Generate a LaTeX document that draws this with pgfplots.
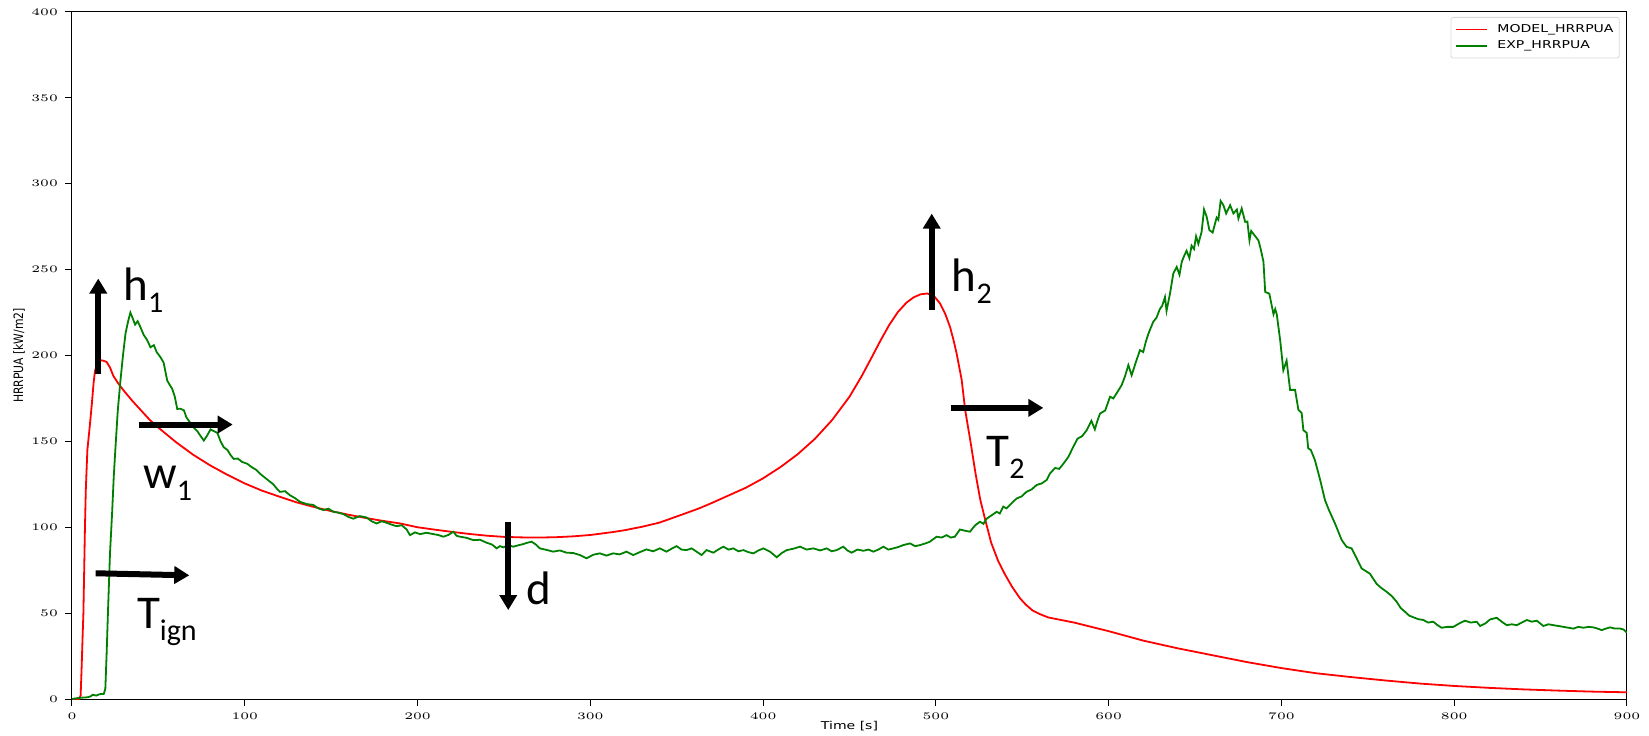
\documentclass[border=0pt]{standalone}
\usepackage{pgfplots}
\pgfplotsset{compat=1.18}
\usepackage{graphicx}
\usepackage{fontspec}
\setmainfont{DejaVu Sans}
\newfontfamily\calib{Carlito}
\usetikzlibrary{arrows.meta}
\definecolor{mgreen}{HTML}{008000}
\newcommand\sx[1]{\scalebox{1.3}[1]{#1}}
\newcommand\tf{\fontsize{5.4}{6.4}\selectfont}
\newcommand\ann[2]{{\calib\fontsize{23.5}{28}\selectfont #1\raisebox{-6pt}{\fontsize{15}{18}\selectfont #2}}}
\begin{document}
\begin{tikzpicture}
\begin{axis}[
 scale only axis, width=777.5pt, height=343.5pt,
 xmin=0, xmax=900, ymin=0, ymax=400,
 xtick={0,100,...,900}, ytick={0,50,...,400},
 tick align=outside, major tick length=3.5pt, xtick pos=bottom, ytick pos=left,
 tick style={black, line width=0.5pt},
 axis line style={line width=0.5pt},
 xticklabel={\sx{\pgfmathprintnumber{\tick}}},
 yticklabel={\sx{\pgfmathprintnumber{\tick}}},
 ticklabel style={font=\tf},
 xlabel={\sx{Time [s]}},
 ylabel={\scalebox{1}[1.2]{HRRPUA [kW/m2]}},
 label style={font=\tf},
 xlabel style={at={(axis description cs:0.5,-0.0393)}, anchor=center},
 ylabel style={at={(axis description cs:-0.0341,0.5)}, anchor=center},
 legend style={at={(1,1)}, anchor=north east, xshift=-3.7pt, yshift=-2.5pt,
   draw=black!15, rounded corners=1pt, font=\tf, inner xsep=2pt, inner ysep=2.5pt,
   row sep=1.2pt, column sep=4pt, nodes={inner sep=0.8pt}},
 legend cell align=left,
 legend image code/.code={\draw[#1] (0pt,0pt) -- (15.5pt,0pt);},
]
\coordinate (O) at (rel axis cs:0,0);
\addplot[red, line width=0.9pt] coordinates {
(0,0) (4,0) (5,2) (5.6,19) (6.1,35) (6.6,50) (7,72) (7.5,100) (8,122) (8.9,145)
(10.4,160) (11.5,172) (12.5,184) (13.3,191) (14.5,195) (16.2,197.3) (18,197) (20,196.3)
(22,193) (24,188) (26.8,183.7) (30,179.5) (35,173.5) (40,168) (45,162.5) (50,158)
(60,149.7) (70,142.3) (80,136) (90,130.5) (100,125.5) (110,121.3) (120.4,117.7)
(130,114.5) (140,111.8) (150,109.4) (160,107.3) (170,105.4) (180,103.7) (190,102.2)
(200,100) (210,98.6) (220,97.3) (230,96.1) (240,95.1) (250,94.4) (260,94.1) (270,94.0)
(280,94.2) (290,94.7) (300,95.5) (313,97.2) (320,98.3) (330,100.3) (340,102.7) (352,107)
(363,111) (370,114) (380,118.5) (390,123) (400,128.5) (410,135) (420,142.5) (430,151.5)
(440,162.5) (450,176) (457,187.9) (463,199.2) (468,208.8) (473,217.8) (478,225.3)
(483,230.8) (487,233.8) (491,235.6) (495,236.1) (499,234.5) (502.4,230.3) (505.5,224)
(508.2,216.6) (510.2,209) (512,201.2) (514.9,186) (517,168) (520,150) (523,131)
(525.7,116) (528.4,105) (532,91) (536,80.5) (540,72.5) (544,65.5) (548.7,58.6)
(552,55) (556,51.5) (560,49.5) (565,47.5) (570,46.5) (580,44.5) (590,42) (600,39.5)
(620,34) (640,29.5) (660,25.5) (680,21.5) (700,18) (720,15) (740,12.8) (760,10.8)
(780,9) (800,7.6) (820,6.5) (840,5.6) (860,4.9) (880,4.3) (900,3.9)
};
\addlegendentry{\sx{MODEL\_HRRPUA}}
\addplot[mgreen, line width=0.9pt] coordinates {
(0,0) (3,0.5) (6,0.8) (9,1) (10.7,1.5) (12,2.5) (14,2) (16,2.8) (18.4,3) (19.3,6)
(20,25) (20.8,50) (22,85) (23.2,108) (24.2,130) (25.2,147) (26.5,168) (28,185)
(29.5,200) (31,213) (32.5,220) (33.8,225) (35,222) (36.5,218) (38,220) (39.6,216.5)
(41.5,212) (43.5,209) (45.4,204.8) (47.4,206) (49,202) (51.2,199) (53,196) (55.1,185.4)
(56.5,183) (58,180.6) (59.5,176) (60.9,168.9) (62.8,169) (64.8,168) (66.2,164) (67.6,162)
(69,160) (70.5,158) (72.5,156) (74.5,153) (76.3,150.5) (78,153) (80.2,157) (82,156)
(84.1,155) (86,150) (87.8,146.6) (90,145) (91.8,142) (93.6,139.8) (96,140) (98.5,138)
(101.4,137) (104,135) (106.5,133.5) (109,131) (111.5,129) (114,127) (116.5,125)
(118.7,122.3) (120.4,120.6) (123.3,121) (126.2,118.6) (129,117) (132,114.8) (135.8,113.5)
(139.7,113) (142.5,111) (145.5,110) (148.4,110.8) (151.3,109) (154.2,108.5) (157,107.7)
(160,106) (162.8,105) (166.6,106.5) (170.5,105.7) (173.4,103.5) (176.3,102.2) (179.2,103.5)
(182.1,102.6) (185,101.5) (187.9,100.6) (190.8,101.2) (193.7,98.7) (195.6,95.4) (198.5,97)
(201.4,96) (205.2,96.8) (209.1,96) (212,95.5) (214.9,94.5) (217.8,95.5) (220.7,97.4)
(222.6,95) (224.6,94.5) (228.5,93.8) (232.3,92.5) (236.2,92.7) (240,91) (243,90)
(245.8,87.7) (247.7,89) (249.6,88.3) (252.5,89.5) (255.4,88.7) (258.3,89.5) (261.2,90.2)
(263.6,91) (266,91.6) (268.4,90) (270.8,87.7) (274.7,86.8) (278.5,85.8) (282.4,86.5)
(286.2,85.2) (290.1,85) (294,83.8) (297.8,81.9) (301.7,84) (305.5,84.8) (309.4,83.5)
(313.2,84.8) (317,84.2) (320.9,85.8) (324.8,83.8) (328.6,85.5) (332.5,87.1) (336.4,86)
(340.2,87.7) (344.1,85.8) (347,87.5) (349.9,89) (352.8,87) (355.7,86.7) (358.6,87.7)
(361.5,85.8) (364.4,83.8) (367.3,86.7) (371.2,85.2) (374,87) (377,88.7) (380,87)
(382.8,87.7) (385.7,86) (388.6,86.7) (391.5,85.5) (394.4,84.8) (397.3,86.5) (400.2,87.7)
(404,85.8) (407.9,82.5) (410.8,85) (413.7,86.7) (417.5,87.5) (421.4,88.7) (425.2,87)
(429.1,87.7) (433,86.5) (436.8,87.7) (439.7,86) (442.6,86.7) (446.4,88.7) (448.8,86.5)
(451.2,85.2) (454.6,87) (458,86.3) (461,87) (463.8,85.8) (466.7,87) (469.6,88.7)
(472.5,87) (475.4,87.7) (478.3,88.5) (481.1,89.6) (485,90.6) (488,89) (490.8,89.6)
(493.7,90.5) (496.6,91.6) (500.4,94.5) (503.3,94) (506.2,95.4) (508.6,94) (511,94.5)
(513.9,98.7) (516.8,98) (519.7,97.4) (522.6,101) (525.5,103.2) (527.5,102) (529.4,105)
(532.3,107) (535.2,109) (537,108) (539,112) (540.9,111) (542.9,113) (544.8,115)
(546.8,116.8) (549.7,118) (552.5,120.7) (555.4,122) (558.3,124.6) (561.2,125.5)
(564.1,127.5) (566,131.3) (569,134.5) (571.4,134) (573.8,137) (576.7,141) (579.5,146.8)
(582,151.6) (584.6,153) (587.3,156.5) (590,162) (592,157) (593.5,162) (595,166.2)
(598,168) (600.8,176) (602.7,175) (604.6,178) (607.5,182.7) (609.5,188) (611.4,194.4)
(613.3,188.5) (615.7,196) (618.1,203.1) (620,202) (621.5,208) (623,212.7) (625.8,219.6)
(627.7,222) (629.6,227) (631,229) (632.6,234) (633.5,226) (635.5,236) (637.4,247.7)
(639.4,251.6) (641,247) (642.3,254.5) (643.7,258) (645.1,261) (646.7,256.7) (648,264)
(649.4,262) (650.6,269.4) (651.9,265) (653.8,272) (655.2,285) (656.7,280.9) (658.3,273)
(660.2,271.6) (662.5,280.3) (663.5,279) (664.8,290) (666.4,287.5) (668,282.7)
(670.3,287.5) (672.2,282.7) (674.2,285) (675.1,279.8) (677,285.6) (679,277.8) (680.3,278)
(681.5,267) (682.5,272.5) (684.8,269.5) (686.7,267) (688,262) (689.6,254.5) (690.6,237)
(693,236) (695.4,224) (696.4,227) (697.3,224) (699.3,208.6) (701.1,191.4) (703,197)
(705,180) (707.9,180) (709.8,168.4) (711.7,166.5) (712.7,156.5) (714.6,155) (715.5,146)
(717,145) (719.4,139) (722.3,128) (725.2,115.8) (727.5,110) (731,102.2) (734.9,92.5)
(737.7,88.6) (740.6,87.7) (743.5,82) (746.4,76) (748.8,74.5) (751.2,73) (753.1,70)
(755.1,67) (758,64.5) (760.9,62.4) (763.8,60) (766.7,56.6) (769,53) (771.5,50.8)
(774,48.5) (776.3,47.6) (779.2,46.5) (782.1,46) (785,44.5) (787.9,45) (790.3,43)
(792.7,41.5) (796,42) (799.5,42) (802.9,44) (806.2,45.6) (809.6,44.5) (813,45)
(815,42.5) (818,44) (820.7,46.3) (824.6,47.3) (827.5,45) (830.4,43) (833.3,43.5)
(836.2,43) (839.1,44.5) (842,46) (844.9,45) (847.8,45.6) (851.6,42.5) (854.5,43.5)
(857.4,43) (860.3,42.5) (863.2,42) (866.1,41.5) (869,41) (871.9,42) (874.8,41.5)
(877.7,42) (880.6,41.7) (883,41) (885.4,40.1) (887.8,41) (890.2,41.7) (893.1,41)
(896,41) (898,40.5) (900,38.6)
};
\addlegendentry{\sx{EXP\_HRRPUA}}
\draw[line width=3pt, -{Triangle[length=7.5pt,width=8.5pt]}] (axis cs:15.2,189.5) -- (axis cs:15.2,244.8);
\draw[line width=3pt, -{Triangle[length=7.5pt,width=8.5pt]}] (axis cs:39,159.8) -- (axis cs:93,159.8);
\draw[line width=3pt, -{Triangle[length=7.5pt,width=8.5pt]}] (axis cs:13.7,73.2) -- (axis cs:67.9,72);
\draw[line width=3pt, -{Triangle[length=7.5pt,width=8.5pt]}] (axis cs:252.5,103.2) -- (axis cs:252.5,51.8);
\draw[line width=3pt, -{Triangle[length=7.5pt,width=8.5pt]}] (axis cs:497.6,226.4) -- (axis cs:497.6,282.6);
\draw[line width=3pt, -{Triangle[length=7.5pt,width=8.5pt]}] (axis cs:508.7,169.5) -- (axis cs:562.2,169.5);
\node[anchor=base west, inner sep=0pt] at (axis cs:29.5,232.2) {\ann{h}{1}};
\node[anchor=base west, inner sep=0pt] at (axis cs:41,122.8) {\ann{w}{1}};
\node[anchor=base west, inner sep=0pt] at (axis cs:37.4,41.3) {\ann{T}{ign}};
\node[anchor=base west, inner sep=0pt] at (axis cs:262.8,54.9) {\ann{d}{}};
\node[anchor=base west, inner sep=0pt] at (axis cs:509,237) {\ann{h}{2}};
\node[anchor=base west, inner sep=0pt] at (axis cs:529,135.2) {\ann{T}{2}};
\end{axis}
\pgfresetboundingbox
\path (O) ++(-36pt,-18pt) rectangle ++(824.5pt,367.5pt);
\end{tikzpicture}
\end{document}
